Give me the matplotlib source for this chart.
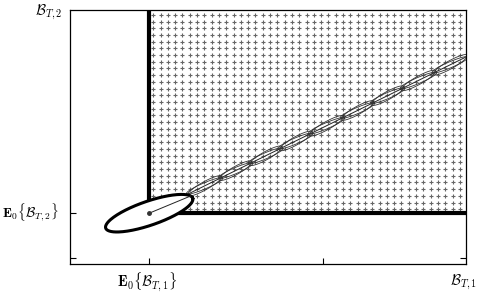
import numpy as np
import matplotlib.pyplot as plt

plt.rcParams['mathtext.fontset'] = 'cm'
plt.rcParams['font.family'] = 'DejaVu Serif'

# expected position (E0{B_T,1}, E0{B_T,2}) and end of the drift path
mean_pt = (0.2, 0.2)
end_pt = (1.0, 0.815)
# other ticks
x_ticks = [0.2, 0.64]
y_ticks = [0.2, 0.025]
# positions (fraction along the path) where the thin ellipses meet
nodes = [0.125, 0.225, 0.32, 0.415, 0.51, 0.61, 0.705, 0.80, 0.90, 1.0]

W, H = 479, 295
fig = plt.figure(figsize=(W / 100, H / 100), dpi=100)
ax = fig.add_axes([70 / W, 1 - 264 / H, 396 / W, 254 / H])
ax.set_xlim(0, 1)
ax.set_ylim(0, 1)
px_x, px_y = 396.0, 254.0  # pixels per data unit


def ellipse_pts(cx, cy, a, b, ang, n=200):
    # a, b in pixels, ang in degrees (display)
    t = np.linspace(0, 2 * np.pi, n)
    th = np.deg2rad(ang)
    dx = a * np.cos(t) * np.cos(th) - b * np.sin(t) * np.sin(th)
    dy = a * np.cos(t) * np.sin(th) + b * np.sin(t) * np.cos(th)
    return cx + dx / px_x, cy + dy / px_y


# hatched region: crosses on a grid
gx = np.arange(0.2 + 4 / px_x, 1.0, 7.3 / px_x)
gy = np.arange(0.2 + 4 / px_y, 1.0, 6.7 / px_y)
GX, GY = np.meshgrid(gx, gy)
ax.scatter(GX.ravel(), GY.ravel(), marker='+', s=9, linewidths=0.8,
           color='#666666', zorder=1)

# thresholds
ax.plot([mean_pt[0], mean_pt[0]], [mean_pt[1], 1.0], color='black', lw=3, zorder=2,
        solid_capstyle='butt')
ax.plot([mean_pt[0], 1.0], [mean_pt[1], mean_pt[1]], color='black', lw=3, zorder=2,
        solid_capstyle='butt')

# path of the expectation
ax.plot([mean_pt[0], end_pt[0]], [mean_pt[1], end_pt[1]], color='#222222', lw=0.7, zorder=4)

# chain of thin ellipses along the path
dxp = (end_pt[0] - mean_pt[0]) * px_x
dyp = (end_pt[1] - mean_pt[1]) * px_y
ang = np.degrees(np.arctan2(dyp, dxp))
plen = np.hypot(dxp, dyp)
for t0, t1 in zip(nodes[:-1], nodes[1:]):
    tm = (t0 + t1) / 2
    cx = mean_pt[0] + tm * (end_pt[0] - mean_pt[0])
    cy = mean_pt[1] + tm * (end_pt[1] - mean_pt[1])
    half = (t1 - t0) * plen / 2
    for bb, da in [(4.0, 3.0), (3.0, -3.0)]:
        ex, ey = ellipse_pts(cx, cy, half * 1.12, bb, ang + da)
        ax.plot(ex, ey, color='#333333', lw=0.6, zorder=4)

# ellipse around the initial expectation
ex, ey = ellipse_pts(mean_pt[0], mean_pt[1], 46, 12, 19)
ax.fill(ex, ey, color='white', zorder=5)
ax.plot(ex, ey, color='black', lw=2.2, zorder=6)
ax.plot([mean_pt[0], mean_pt[0] + 0.105], [mean_pt[1], mean_pt[1] + 0.068],
        color='#222222', lw=0.7, zorder=6)
ax.plot(*mean_pt, 'o', color='#333333', ms=2.5, zorder=7)

# axes styling
for s in ax.spines.values():
    s.set_linewidth(0.9)
ax.set_xticks(x_ticks)
ax.set_yticks(y_ticks)
ax.tick_params(direction='in', length=4.5, width=0.8, right=True, labelleft=False,
               labelbottom=False)

fs = 10.5
ax.text(mean_pt[0] - 0.005, -0.071, r'$\mathbf{E}_0\{\mathcal{B}_{T,1}\}$', ha='center',
        va='center', fontsize=fs, clip_on=False)
ax.text(-0.03, mean_pt[1], r'$\mathbf{E}_0\{\mathcal{B}_{T,2}\}$', ha='right', va='center',
        fontsize=9.8, clip_on=False)
ax.text(0.995, -0.071, r'$\mathcal{B}_{T,1}$', ha='center', va='center', fontsize=fs,
        clip_on=False)
ax.text(-0.02, 0.99, r'$\mathcal{B}_{T,2}$', ha='right', va='center', fontsize=fs,
        clip_on=False)

fig.savefig('out.png', dpi=100)
